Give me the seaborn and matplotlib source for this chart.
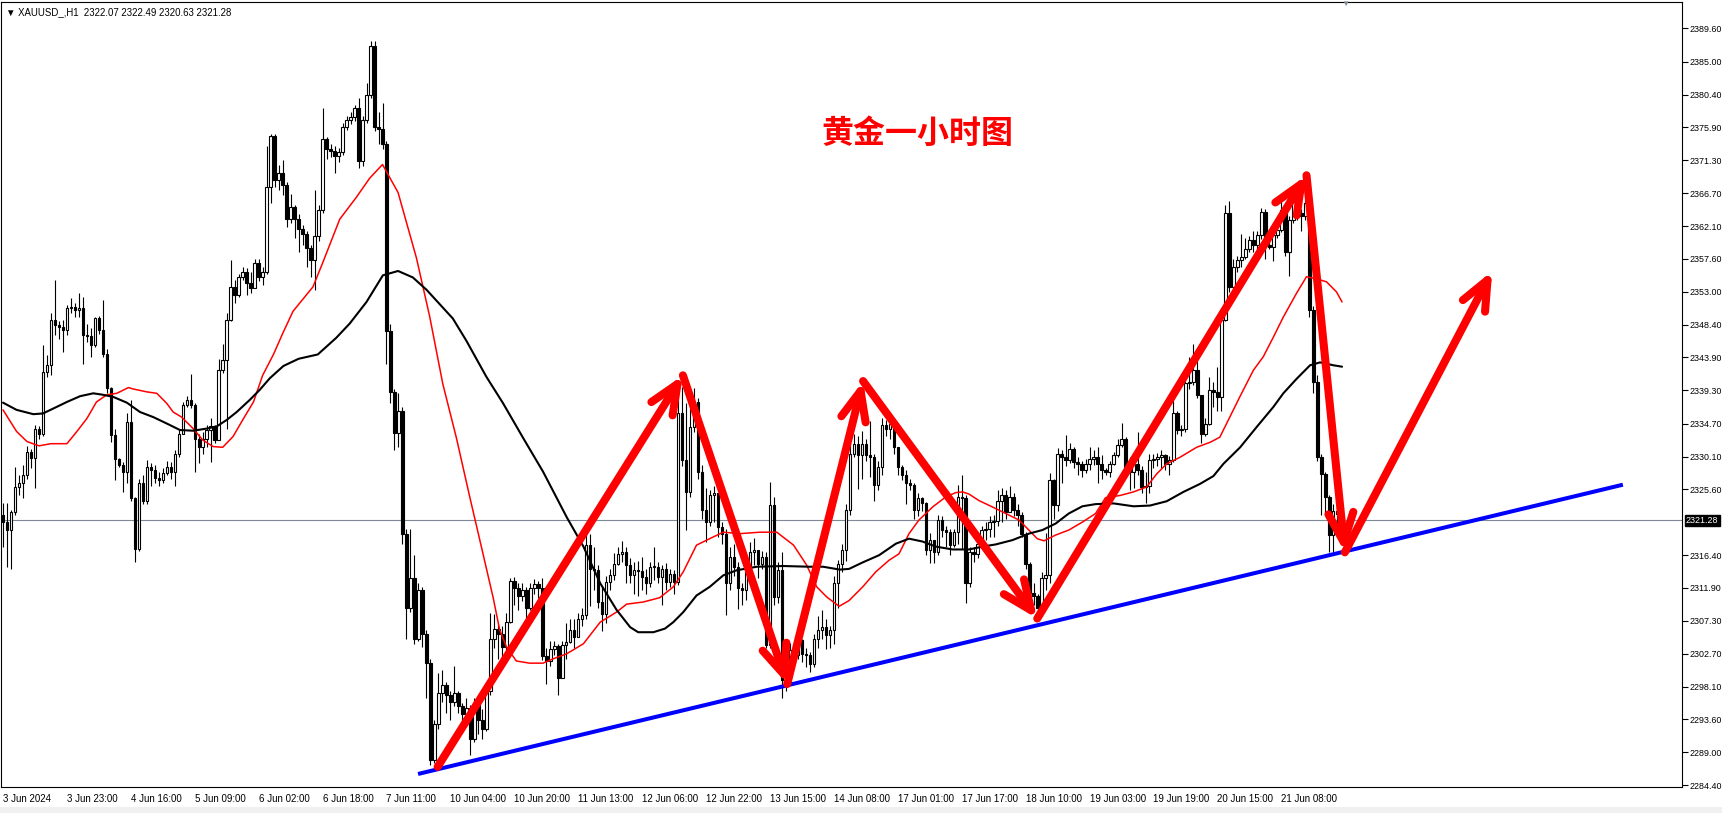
import numpy as np
import pandas as pd
import matplotlib
matplotlib.use("Agg")
import matplotlib.pyplot as plt
from matplotlib.patches import Rectangle
import seaborn as sns

# XAUUSD H1 candles (open = previous close)
first_open = 2322.0

close_w1 = [2321.0, 2319.9, 2322.4, 2325.9, 2326.4, 2327.5, 2330.8, 2329.9, 2334.0, 2333.3,
            2341.9, 2342.8, 2349.1, 2348.4, 2348.1, 2347.7, 2350.7, 2350.9, 2350.5, 2350.8,
            2347.0, 2346.8, 2345.6, 2349.3, 2347.7, 2344.4, 2339.6, 2333.1, 2329.8, 2328.9,
            2328.0, 2334.9, 2324.3, 2317.3, 2326.4, 2324.0, 2328.7, 2328.2, 2327.1, 2326.8,
            2327.8, 2328.7, 2328.0, 2330.5, 2333.3, 2337.3, 2338.0, 2337.3, 2332.6, 2331.5,
            2332.6, 2333.8, 2334.3, 2332.4, 2342.1, 2343.5, 2349.1, 2353.7, 2352.6, 2355.1,
            2355.8, 2354.2, 2353.5, 2357.0, 2355.1, 2355.8, 2367.6, 2374.6, 2368.5, 2369.5,
            2367.8, 2363.1, 2364.8, 2363.1, 2361.8, 2361.1, 2359.1, 2357.4, 2360.7, 2364.4,
            2374.2, 2372.9, 2372.6, 2371.9, 2372.5, 2375.9, 2376.9, 2377.3, 2378.6, 2371.2,
            2376.9, 2380.3, 2387.1, 2375.9, 2375.6, 2373.6, 2347.6, 2339.1, 2333.4, 2336.5,
            2319.3, 2309.1, 2313.2, 2304.7, 2311.5, 2305.4, 2301.4, 2287.9]
high_w1 = [2323.6, 2323.6, 2322.7, 2328.7, 2327.5, 2328.9, 2331.6, 2331.2, 2334.5, 2334.3,
           2345.6, 2344.2, 2350.0, 2354.6, 2349.0, 2349.1, 2351.2, 2352.1, 2351.5, 2352.8,
           2352.3, 2348.5, 2348.0, 2349.5, 2349.6, 2351.8, 2345.0, 2339.8, 2334.0, 2329.9,
           2329.3, 2336.1, 2338.0, 2324.5, 2327.0, 2327.5, 2329.6, 2329.2, 2329.0, 2328.0,
           2328.5, 2329.5, 2329.3, 2331.0, 2334.0, 2337.7, 2338.5, 2341.6, 2337.5, 2333.3,
           2333.5, 2334.5, 2335.4, 2334.5, 2343.6, 2345.8, 2350.0, 2357.4, 2354.6, 2355.5,
           2356.5, 2356.3, 2355.8, 2357.5, 2357.5, 2356.5, 2373.2, 2375.0, 2375.0, 2370.6,
           2371.3, 2368.2, 2366.6, 2365.0, 2363.8, 2362.3, 2361.5, 2359.5, 2367.1, 2365.0,
           2378.6, 2374.5, 2373.5, 2373.3, 2373.0, 2376.5, 2377.5, 2378.0, 2379.0, 2380.0,
           2377.5, 2382.0, 2387.8, 2387.8, 2378.0, 2379.3, 2374.0, 2348.5, 2339.5, 2339.0,
           2337.0, 2320.0, 2320.0, 2316.5, 2312.5, 2312.0, 2306.0, 2302.0]
low_w1 = [2317.5, 2314.8, 2314.5, 2322.0, 2324.8, 2324.3, 2327.0, 2328.5, 2325.7, 2332.5,
          2333.0, 2341.2, 2341.4, 2347.0, 2346.5, 2344.7, 2347.0, 2350.0, 2349.5, 2349.5,
          2343.0, 2346.0, 2344.0, 2345.4, 2347.2, 2344.0, 2338.9, 2332.2, 2326.8, 2328.7,
          2325.2, 2326.4, 2324.0, 2315.5, 2317.0, 2323.5, 2323.5, 2326.0, 2326.5, 2326.0,
          2326.5, 2327.5, 2327.0, 2326.0, 2330.0, 2333.2, 2337.0, 2336.8, 2328.0, 2329.2,
          2330.5, 2331.5, 2329.4, 2332.0, 2332.4, 2341.7, 2334.0, 2348.9, 2351.4, 2352.3,
          2354.6, 2352.6, 2352.8, 2355.0, 2354.5, 2354.0, 2355.5, 2365.3, 2367.6, 2367.2,
          2366.4, 2362.0, 2362.5, 2360.5, 2358.5, 2359.5, 2356.5, 2355.0, 2353.3, 2360.0,
          2364.0, 2371.5, 2371.8, 2369.5, 2371.0, 2372.0, 2375.5, 2376.3, 2376.8, 2370.2,
          2370.5, 2376.5, 2380.0, 2375.3, 2373.6, 2372.9, 2343.0, 2337.5, 2331.0, 2331.5,
          2318.0, 2304.7, 2308.5, 2304.0, 2304.5, 2303.7, 2296.5, 2287.2]

close_w2 = [2292.9, 2297.3, 2298.3, 2297.0, 2296.0, 2297.3, 2295.5, 2294.3, 2295.2, 2290.9,
            2295.6, 2293.5, 2292.3, 2297.6, 2304.7, 2306.1, 2305.4, 2303.7, 2307.1, 2312.8,
            2311.8, 2310.8, 2311.5, 2309.1, 2311.8, 2312.4, 2311.8, 2302.4, 2301.7, 2303.4,
            2303.8, 2299.3, 2303.9, 2304.4, 2306.0, 2305.0, 2307.6, 2308.1, 2317.8, 2314.5,
            2314.3, 2309.9, 2308.3, 2312.7, 2313.6, 2315.2, 2316.6, 2316.9, 2315.0, 2313.6,
            2314.3, 2314.2, 2313.4, 2312.5, 2314.8, 2314.8, 2313.4, 2314.5, 2312.7, 2313.8,
            2312.7, 2336.1, 2329.6, 2325.2, 2334.2, 2337.7, 2328.0, 2322.7, 2321.0, 2324.7,
            2325.0, 2320.3, 2319.4, 2312.5, 2316.2, 2314.8, 2311.8, 2311.5, 2314.1, 2316.9,
            2317.1, 2315.2, 2316.2, 2303.9, 2323.4, 2310.6, 2314.3, 2299.0, 2298.6, 2303.2,
            2302.5, 2304.6, 2302.7, 2302.5, 2301.3, 2304.8, 2306.0, 2306.4, 2305.3, 2306.0,
            2312.5, 2315.2, 2317.1, 2322.7, 2330.5, 2331.9, 2330.3, 2331.9, 2330.3, 2330.0,
            2326.1, 2328.7, 2334.5, 2334.0, 2334.7, 2331.5]
high_w2 = [2293.5, 2300.0, 2300.5, 2298.8, 2297.5, 2301.0, 2297.5, 2295.8, 2296.5, 2295.6,
           2296.5, 2296.5, 2295.0, 2298.2, 2308.4, 2308.3, 2306.8, 2306.5, 2308.4, 2313.3,
           2313.4, 2312.6, 2312.6, 2312.0, 2312.6, 2313.1, 2312.8, 2313.3, 2303.5, 2304.5,
           2304.5, 2304.0, 2304.5, 2307.0, 2307.6, 2307.5, 2308.4, 2309.0, 2319.4, 2319.4,
           2317.5, 2315.0, 2312.0, 2313.5, 2314.5, 2316.7, 2317.5, 2318.4, 2317.6, 2316.0,
           2315.5, 2315.6, 2316.2, 2314.5, 2315.5, 2317.5, 2315.5, 2315.0, 2315.3, 2314.5,
           2314.3, 2338.9, 2339.8, 2337.5, 2337.8, 2339.6, 2338.2, 2329.0, 2325.8, 2325.5,
           2326.0, 2325.0, 2321.0, 2320.0, 2317.5, 2318.0, 2315.5, 2312.5, 2314.5, 2318.2,
           2318.8, 2317.0, 2317.0, 2316.8, 2326.6, 2324.5, 2315.5, 2316.8, 2300.0, 2304.2,
           2304.2, 2305.5, 2304.8, 2303.5, 2303.0, 2305.5, 2307.9, 2308.8, 2307.5, 2306.6,
           2313.5, 2315.8, 2318.0, 2323.5, 2332.0, 2333.3, 2333.0, 2333.7, 2332.5, 2335.0,
           2330.5, 2329.5, 2335.4, 2335.2, 2335.4, 2333.0]
low_w2 = [2287.5, 2292.2, 2296.0, 2294.5, 2293.5, 2295.5, 2294.5, 2293.0, 2293.0, 2288.7,
          2290.5, 2291.5, 2290.9, 2292.0, 2297.0, 2303.5, 2302.0, 2301.0, 2302.5, 2307.0,
          2309.5, 2308.8, 2310.0, 2307.6, 2308.8, 2311.0, 2310.5, 2301.8, 2298.5, 2301.0,
          2302.5, 2297.0, 2299.3, 2302.0, 2304.2, 2303.5, 2305.0, 2306.5, 2307.5, 2309.3,
          2311.5, 2309.0, 2305.8, 2307.0, 2311.5, 2313.0, 2315.0, 2315.5, 2312.5, 2312.6,
          2311.0, 2310.7, 2311.5, 2311.0, 2312.0, 2313.0, 2312.5, 2309.5, 2311.5, 2312.0,
          2311.0, 2312.3, 2328.8, 2319.9, 2324.5, 2333.5, 2327.0, 2321.5, 2318.3, 2320.5,
          2321.0, 2319.0, 2318.0, 2308.1, 2311.5, 2313.5, 2308.9, 2309.5, 2310.2, 2313.5,
          2315.0, 2313.2, 2314.5, 2303.5, 2303.5, 2309.5, 2309.8, 2296.5, 2297.5, 2298.3,
          2301.2, 2302.0, 2301.5, 2300.8, 2300.2, 2300.8, 2303.5, 2304.7, 2303.4, 2303.5,
          2304.0, 2309.0, 2314.0, 2315.6, 2322.0, 2330.0, 2325.6, 2327.0, 2329.5, 2327.3,
          2324.0, 2325.5, 2327.5, 2333.0, 2332.6, 2330.5]

close_w3 = [2328.7, 2327.5, 2326.4, 2326.2, 2322.7, 2324.3, 2323.6, 2317.1, 2318.5, 2316.9,
            2321.3, 2319.9, 2319.6, 2317.8, 2319.6, 2324.5, 2324.3, 2312.5, 2316.9, 2316.6,
            2318.0, 2319.9, 2320.1, 2321.0, 2321.2, 2324.0, 2324.8, 2322.4, 2324.5, 2322.7,
            2322.0, 2319.4, 2315.2, 2311.1, 2310.8, 2309.0, 2313.2, 2313.6, 2326.8, 2323.4,
            2330.5, 2330.1, 2329.6, 2331.2, 2329.4, 2329.1, 2328.2, 2329.1, 2329.8, 2330.1,
            2329.1, 2328.2, 2328.0, 2329.1, 2330.3, 2331.7, 2332.6, 2328.7, 2328.0, 2329.1,
            2328.2, 2325.9, 2326.0, 2329.6, 2329.8, 2330.1, 2330.3, 2329.1, 2329.6, 2336.1,
            2333.8, 2334.0, 2340.3, 2340.5, 2342.1, 2338.7, 2333.3, 2334.7, 2339.3, 2339.1,
            2338.4, 2349.1, 2363.9, 2353.7, 2356.5, 2357.4, 2357.9, 2359.0, 2360.2, 2359.5,
            2360.9, 2364.1, 2359.5, 2359.3, 2360.9, 2361.6, 2364.4, 2358.6, 2363.0, 2365.5,
            2363.9, 2363.6, 2365.3, 2350.5, 2340.5, 2330.0, 2327.7, 2324.5, 2319.2, 2322.6,
            2322.07, 2321.28]
high_w3 = [2331.5, 2329.0, 2328.2, 2327.0, 2326.4, 2325.0, 2324.5, 2323.8, 2319.5, 2318.5,
           2322.0, 2321.8, 2320.5, 2320.0, 2320.0, 2326.1, 2327.5, 2324.8, 2317.5, 2317.5,
           2318.8, 2320.5, 2321.0, 2321.8, 2322.0, 2325.5, 2325.8, 2325.5, 2326.0, 2325.0,
           2323.5, 2322.4, 2319.6, 2315.5, 2312.5, 2311.0, 2314.0, 2319.5, 2327.8, 2327.0,
           2331.3, 2331.0, 2333.1, 2332.0, 2331.5, 2330.0, 2329.5, 2329.8, 2331.5, 2331.0,
           2331.5, 2330.3, 2328.5, 2329.5, 2330.8, 2332.6, 2334.8, 2332.8, 2330.0, 2330.5,
           2333.5, 2328.8, 2328.0, 2330.5, 2330.5, 2330.6, 2331.0, 2330.5, 2330.2, 2338.0,
           2336.5, 2334.5, 2341.0, 2344.0, 2345.7, 2343.5, 2338.5, 2335.5, 2341.1, 2340.5,
           2342.5, 2350.0, 2365.0, 2365.6, 2357.5, 2358.0, 2361.0, 2360.5, 2360.8, 2361.5,
           2361.5, 2364.6, 2364.5, 2360.5, 2361.4, 2362.0, 2365.8, 2364.8, 2363.5, 2366.0,
           2365.8, 2364.5, 2367.0, 2365.5, 2351.0, 2341.5, 2330.5, 2328.0, 2324.7, 2323.5,
           2323.3, 2322.49]
low_w3 = [2327.5, 2326.8, 2323.5, 2325.5, 2321.5, 2321.8, 2322.6, 2316.5, 2315.3, 2315.3,
          2316.5, 2319.0, 2317.5, 2316.5, 2317.5, 2318.0, 2317.3, 2309.7, 2312.0, 2315.5,
          2316.0, 2317.5, 2318.5, 2319.0, 2319.0, 2320.5, 2321.0, 2321.5, 2322.5, 2321.8,
          2320.5, 2319.0, 2314.5, 2310.5, 2309.5, 2307.3, 2308.5, 2311.5, 2312.5, 2321.5,
          2322.5, 2326.5, 2328.8, 2329.2, 2328.5, 2327.6, 2327.3, 2327.8, 2328.3, 2329.0,
          2326.5, 2327.0, 2327.5, 2327.3, 2329.0, 2330.0, 2331.5, 2328.0, 2325.5, 2325.8,
          2327.5, 2325.0, 2323.6, 2325.0, 2328.5, 2328.8, 2328.5, 2328.3, 2327.5, 2329.3,
          2333.3, 2333.0, 2333.5, 2339.5, 2340.0, 2338.2, 2332.0, 2333.0, 2334.5, 2337.0,
          2336.5, 2336.5, 2349.0, 2353.0, 2353.0, 2355.8, 2356.5, 2357.5, 2358.5, 2358.5,
          2358.5, 2360.3, 2357.6, 2359.0, 2357.3, 2360.5, 2361.3, 2358.0, 2355.2, 2362.5,
          2363.0, 2361.5, 2363.0, 2349.5, 2339.0, 2329.5, 2322.0, 2322.0, 2316.8, 2316.8,
          2319.5, 2320.63]

# moving averages, read at sample bars
red_ma_bar = [0, 3.4, 6, 9, 12, 14, 16, 18.5, 21, 23.4, 26, 28.5, 31.4, 32.6, 36, 38.5, 41, 42.6,
              44.7, 47.6, 50, 52.6, 55, 57.6, 60, 62.7, 65, 67.7, 70, 72.6, 77.6, 80, 84.3, 88.4,
              91.8, 95, 98.9, 103.5, 106.8, 110.1, 113.5, 116.8, 120.2, 122.7, 124.3, 126, 128.5,
              131.8, 135.2, 137.7, 141.1, 145.3, 149.5, 153.6, 156.1, 160.3, 164.4, 167.8, 170.3,
              173.6, 176.9, 180.3, 184.5, 189.5, 193.7, 197.9, 201.2, 203.7, 206.2, 209.3, 211.8,
              215.2, 218.5, 221.8, 224.3, 226.8, 229.3, 232.7, 236, 238.5, 240.2, 241.8, 244.3,
              247.7, 251, 254.3, 256.8, 258.9, 260.6, 263.5, 266.8, 270.2, 273.5, 276, 279.6,
              283, 286.3, 288.8, 291.3, 294.6, 298.8, 302.2, 304.6, 306.3, 309.6, 313, 315.5,
              318, 320.5, 323.8, 326.3, 328.8, 331.3, 333.8, 335.2]
red_ma_val = [2336.6, 2333.6, 2332.2, 2331.6, 2331.9, 2331.9, 2331.9, 2333.6, 2335.4, 2337.7,
              2338.7, 2338.9, 2339.7, 2339.5, 2339.1, 2338.9, 2337.5, 2336.3, 2335.6, 2334.0,
              2332.4, 2331.5, 2331.4, 2332.9, 2335.2, 2337.7, 2341.4, 2344.3, 2347.2, 2350.3,
              2353.7, 2357.0, 2363.1, 2366.1, 2368.8, 2370.7, 2366.8, 2357.7, 2349.6, 2340.2,
              2332.7, 2324.6, 2316.5, 2310.5, 2306.1, 2303.7, 2301.7, 2301.4, 2301.4, 2302.0,
              2302.7, 2304.1, 2307.1, 2308.5, 2309.6, 2309.9, 2310.5, 2312.0, 2314.1, 2317.8,
              2318.7, 2319.6, 2319.4, 2319.6, 2319.6, 2317.8, 2315.0, 2312.0, 2310.6, 2309.3,
              2310.1, 2312.0, 2314.1, 2315.7, 2316.6, 2319.4, 2321.3, 2323.1, 2324.5, 2325.1,
              2325.2, 2324.9, 2324.0, 2323.1, 2322.2, 2321.3, 2319.9, 2318.7, 2318.4, 2319.2,
              2319.9, 2321.0, 2322.2, 2324.4, 2324.7, 2325.2, 2325.9, 2327.7, 2329.1, 2330.0,
              2331.4, 2332.1, 2332.8, 2334.7, 2338.4, 2342.1, 2344.0, 2346.7, 2349.5, 2352.8,
              2355.1, 2354.8, 2354.4, 2353.0, 2351.6]

black_ma_bar = [0, 3.4, 7.6, 10, 13.4, 16, 19.3, 22.6, 25, 27.6, 31, 34.3, 37.6, 41, 44.3, 47.6,
                51, 53.5, 56, 58.5, 61.8, 64.3, 66.8, 70.2, 74, 78.8, 83.4, 86.8, 91, 95.1, 98.9,
                102.6, 106, 112.6, 116, 121, 125.2, 130.2, 135.2, 141.1, 145.3, 149.5, 153.6, 157,
                159, 162.8, 165.7, 167.8, 170.3, 173.6, 176.9, 180.3, 183.6, 188.7, 195.3, 202,
                205.3, 209.5, 211.8, 215.2, 219.3, 223.5, 226.8, 230.2, 233.5, 237.7, 241.8, 245.2,
                248.5, 252.7, 256.8, 260.2, 263.5, 266.8, 270.2, 273.5, 278, 283, 287.1, 291.3,
                295.5, 299.6, 303, 305.5, 309.7, 313.8, 318, 320.5, 323.8, 327.2, 329.7, 333,
                335.2]
black_ma_val = [2337.6, 2336.6, 2336.0, 2336.1, 2337.0, 2337.7, 2338.5, 2338.9, 2338.7, 2338.4,
                2337.6, 2336.3, 2335.6, 2334.7, 2333.8, 2333.7, 2334.0, 2334.3, 2335.2, 2336.3,
                2338.0, 2339.4, 2341.0, 2342.7, 2343.7, 2344.3, 2346.6, 2348.6, 2351.6, 2355.3,
                2355.9, 2355.0, 2353.3, 2349.3, 2346.2, 2341.2, 2337.5, 2332.7, 2328.0, 2321.7,
                2317.6, 2312.5, 2308.8, 2306.4, 2305.7, 2305.7, 2306.2, 2307.1, 2308.5, 2310.8,
                2312.0, 2313.6, 2314.3, 2314.8, 2314.9, 2314.8, 2314.8, 2314.4, 2314.5, 2315.4,
                2316.4, 2318.0, 2318.7, 2318.3, 2317.6, 2317.2, 2317.2, 2317.6, 2317.9, 2318.5,
                2319.4, 2319.9, 2320.8, 2322.2, 2323.2, 2323.5, 2323.6, 2323.2, 2323.3, 2323.9,
                2325.2, 2326.3, 2327.4, 2329.1, 2331.4, 2334.2, 2337.0, 2338.9, 2340.9, 2342.8,
                2343.2, 2342.8, 2342.6]

# hand drawn annotations (bar, price)
arrow_bar = [108.8, 170.2, 196.3, 215.3, 258.9, 326.3, 335.9, 372.8]
arrow_price = [2287.0, 2341.4, 2298.5, 2340.6, 2307.6, 2369.2, 2316.8, 2355.9]
trend_bar = [103.9, 405.5]
trend_price = [2286.0, 2326.2]

last_price = 2321.28
tick_bars = list(range(0, 321, 16))
tick_labels = ['3 Jun 2024', '3 Jun 23:00', '4 Jun 16:00', '5 Jun 09:00', '6 Jun 02:00',
               '6 Jun 18:00', '7 Jun 11:00', '10 Jun 04:00', '10 Jun 20:00', '11 Jun 13:00',
               '12 Jun 06:00', '12 Jun 22:00', '13 Jun 15:00', '14 Jun 08:00', '17 Jun 01:00',
               '17 Jun 17:00', '18 Jun 10:00', '19 Jun 03:00', '19 Jun 19:00', '20 Jun 15:00',
               '21 Jun 08:00']
price_ticks = [2389.60, 2385.00, 2380.40, 2375.90, 2371.30, 2366.70, 2362.10, 2357.60, 2353.00,
               2348.40, 2343.90, 2339.30, 2334.70, 2330.10, 2325.60, 2316.40, 2311.90, 2307.30,
               2302.70, 2298.10, 2293.60, 2289.00, 2284.40]

# build the candle table
df = pd.DataFrame({
    'close': close_w1 + close_w2 + close_w3,
    'high': high_w1 + high_w2 + high_w3,
    'low': low_w1 + low_w2 + low_w3,
})
df['bar'] = np.arange(len(df))
df['open'] = df['close'].shift(1).fillna(first_open)
df.loc[df.index[-1], 'open'] = 2322.07
df['high'] = df[['high', 'open', 'close']].max(axis=1)
df['low'] = df[['low', 'open', 'close']].min(axis=1)
up = df['close'] >= df['open']

sns.set_style("white")
plt.rcParams['font.family'] = ['Liberation Sans', 'DejaVu Sans', 'Noto Sans CJK SC']

W, H = 1722, 813
fig = plt.figure(figsize=(W / 100, H / 100), dpi=100)
ax = fig.add_axes([1 / W, 1 - 787 / H, 1681 / W, 785 / H])

ax.axhline(last_price, color='#7f8a96', lw=0.8, zorder=1)

# candles
ax.vlines(df['bar'], df['low'], df['high'], color='black', lw=0.8, zorder=2)
body_lo = df[['open', 'close']].min(axis=1)
body_h = (df['close'] - df['open']).abs().clip(lower=0.05)
ax.bar(df['bar'][up], body_h[up], bottom=body_lo[up], width=0.62,
       facecolor='white', edgecolor='black', lw=0.8, zorder=3)
ax.bar(df['bar'][~up], body_h[~up], bottom=body_lo[~up], width=0.62,
       facecolor='black', edgecolor='black', lw=0.8, zorder=3)

# moving averages
sns.lineplot(x=red_ma_bar, y=red_ma_val, color='#ff0000', lw=1.1, ax=ax, zorder=4)
sns.lineplot(x=black_ma_bar, y=black_ma_val, color='black', lw=1.5, ax=ax, zorder=4)

# trend line and arrows
ax.plot(trend_bar, trend_price, color='#0000ff', lw=2.9, zorder=5, solid_capstyle='butt')
for k in range(len(arrow_bar) - 1):
    ax.annotate('', xy=(arrow_bar[k + 1], arrow_price[k + 1]),
                xytext=(arrow_bar[k], arrow_price[k]),
                arrowprops=dict(arrowstyle='->,head_length=1.05,head_width=0.45',
                                color='#ff0000', lw=5.8, shrinkA=0, shrinkB=0,
                                mutation_scale=20),
                zorder=6)

ax.set_xlim(-0.5, 420.3)
ax.set_ylim(2284.19, 2393.28)

ax.set_xticks(tick_bars)
ax.set_xticklabels(tick_labels, ha='left', fontsize=7)
ax.yaxis.tick_right()
ax.set_yticks(price_ticks)
ax.set_yticklabels([f'{v:.2f}' for v in price_ticks], fontsize=6.4)
ax.tick_params(axis='x', direction='out', length=3, width=0.8, pad=2, colors='black')
ax.tick_params(axis='y', direction='out', length=4, width=0.8, pad=1.5, colors='black')
ax.set_xlabel('')
ax.set_ylabel('')
for s in ax.spines.values():
    s.set_visible(True)
    s.set_color('black')
    s.set_linewidth(0.8)

# current price label
ax.annotate(f'{last_price:.2f}', xy=(1.0, last_price), xycoords=('axes fraction', 'data'),
            xytext=(4, 0), textcoords='offset pixels', va='center', ha='left',
            fontsize=6.4, color='white',
            bbox=dict(boxstyle='square,pad=0.12', fc='black', ec='black'),
            annotation_clip=False)

fig.text(6 / W, 1 - 12 / H, '▼ XAUUSD_,H1  2322.07 2322.49 2320.63 2321.28',
         fontsize=6.9, va='center', ha='left', color='black')
fig.text(917 / W, 1 - 134 / H, '黄金一小时图', fontsize=23, fontweight='bold',
         color='#ff0000', ha='center', va='center', family=['Noto Sans CJK SC'])
fig.text(1345 / W, 1 - 1 / H, '▼', fontsize=6, color='#7f8a96', ha='center', va='top')
fig.patches.append(Rectangle((0, 0), 1, 6 / H, transform=fig.transFigure,
                             facecolor='#f0f0f0', edgecolor='none'))

fig.savefig('out.png', dpi=100)
